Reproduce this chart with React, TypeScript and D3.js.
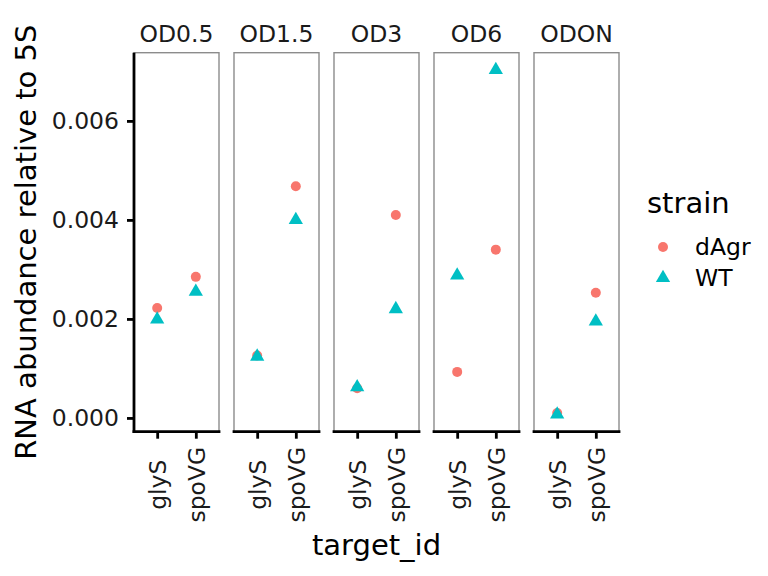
import { useRef, useEffect } from "react";
import * as d3 from "d3";

// Facet panels (sampling point) and x categories
const panels = ["OD0.5", "OD1.5", "OD3", "OD6", "ODON"];
const targets = ["glyS", "spoVG"];
const strains = ["dAgr", "WT"];

// RNA abundance per panel, [glyS, spoVG]
const dAgrValues = [
  [0.00222, 0.00285],
  [0.00126, 0.00468],
  [0.0006, 0.0041],
  [0.00093, 0.0034],
  [0.0001, 0.00253],
];
const wtValues = [
  [0.00199, 0.00255],
  [0.00124, 0.004],
  [0.00062, 0.0022],
  [0.00288, 0.00703],
  [0.00007, 0.00195],
];

const yTicks = [0, 0.002, 0.004, 0.006];

const COLORS: Record<string, string> = { dAgr: "#F8766D", WT: "#00BFC4" };
const FONT = "DejaVu Sans, sans-serif";
const SMALL = 23.5;
const BIG = 29;

export default function App() {
  const svgRef = useRef<SVGSVGElement>(null);
  const W = 768;
  const H = 576;

  useEffect(() => {
    if (!svgRef.current) return;
    const svg = d3.select(svgRef.current);
    svg.selectAll("*").remove();

    const top = 52.7;
    const bottom = 431.7;
    const left0 = 134;
    const panelW = 85;
    const gap = 15;

    const all = [...dAgrValues.flat(), ...wtValues.flat()];
    const lo = d3.min(all) ?? 0;
    const hi = d3.max(all) ?? 1;
    const pad = (hi - lo) * 0.05;
    const y = d3.scaleLinear().domain([lo - pad, hi + pad]).range([bottom, top]);

    svg.append("rect").attr("width", W).attr("height", H).attr("fill", "#fff");

    panels.forEach((p, i) => {
      const x0 = left0 + i * (panelW + gap);
      const x = d3.scalePoint<string>().domain(targets).range([x0, x0 + panelW]).padding(0.6);
      const g = svg.append("g");

      // panel border
      g.append("rect")
        .attr("x", x0).attr("y", top).attr("width", panelW).attr("height", bottom - top)
        .attr("fill", "none").attr("stroke", "#8c8c8c").attr("stroke-width", 1.4);

      // strip label
      g.append("text")
        .attr("x", x0 + panelW / 2).attr("y", 42)
        .attr("text-anchor", "middle").attr("font-family", FONT).attr("font-size", SMALL)
        .attr("fill", "#1a1a1a").text(p);

      // x axis
      const ax = g.append("g").attr("transform", `translate(0,${bottom})`)
        .call(d3.axisBottom(x).tickSize(7).tickSizeOuter(0));
      ax.select(".domain").attr("stroke", "#000").attr("stroke-width", 2.8)
        .attr("d", `M${x0 - 1.4},0H${x0 + panelW + 1.4}`);
      ax.selectAll(".tick line").attr("stroke", "#000").attr("stroke-width", 2.8);
      ax.selectAll(".tick text")
        .attr("font-family", FONT).attr("font-size", SMALL).attr("fill", "#1a1a1a")
        .attr("text-anchor", "middle")
        .attr("y", 0).attr("dy", "0.35em")
        .attr("transform", "translate(0,53) rotate(-90)");

      // points: dAgr first, WT on top
      strains.forEach((s) => {
        const vals = s === "dAgr" ? dAgrValues[i] : wtValues[i];
        vals.forEach((v, j) => {
          const cx = x(targets[j]) ?? 0;
          if (s === "dAgr") {
            g.append("circle").attr("cx", cx).attr("cy", y(v)).attr("r", 5).attr("fill", COLORS[s]);
          } else {
            g.append("path")
              .attr("d", d3.symbol().type(d3.symbolTriangle).size(88)())
              .attr("transform", `translate(${cx},${y(v)})`)
              .attr("fill", COLORS[s]);
          }
        });
      });
    });

    // y axis
    const ay = svg.append("g").attr("transform", `translate(${left0},0)`)
      .call(d3.axisLeft(y).tickValues(yTicks).tickFormat(d3.format(".3f")).tickSize(7).tickSizeOuter(0));
    ay.select(".domain").attr("stroke", "#000").attr("stroke-width", 2.8)
      .attr("d", `M0,${top}V${bottom + 1.4}`);
    ay.selectAll(".tick line").attr("stroke", "#000").attr("stroke-width", 2.8);
    ay.selectAll(".tick text")
      .attr("font-family", FONT).attr("font-size", SMALL).attr("fill", "#1a1a1a").attr("x", -15);

    // axis titles
    svg.append("text")
      .attr("transform", `translate(36,${(top + bottom) / 2}) rotate(-90)`)
      .attr("text-anchor", "middle").attr("font-family", FONT).attr("font-size", BIG)
      .attr("fill", "#000").text("RNA abundance relative to 5S");
    svg.append("text")
      .attr("x", left0 + (4 * (panelW + gap) + panelW) / 2).attr("y", 555)
      .attr("text-anchor", "middle").attr("font-family", FONT).attr("font-size", BIG)
      .attr("fill", "#000").text("target_id");

    // legend
    const lg = svg.append("g");
    lg.append("text").attr("x", 647).attr("y", 213)
      .attr("font-family", FONT).attr("font-size", BIG).attr("fill", "#000").text("strain");
    strains.forEach((s, k) => {
      const cy = 247 + k * 31;
      if (s === "dAgr") {
        lg.append("circle").attr("cx", 663).attr("cy", cy).attr("r", 5).attr("fill", COLORS[s]);
      } else {
        lg.append("path")
          .attr("d", d3.symbol().type(d3.symbolTriangle).size(88)())
          .attr("transform", `translate(663,${cy})`).attr("fill", COLORS[s]);
      }
      lg.append("text").attr("x", 695).attr("y", cy + 8)
        .attr("font-family", FONT).attr("font-size", SMALL).attr("fill", "#000").text(s);
    });
  }, []);

  return (
    <svg ref={svgRef} width={W} height={H}
      style={{ position: "absolute", left: 0, top: 0, display: "block" }} />
  );
}
